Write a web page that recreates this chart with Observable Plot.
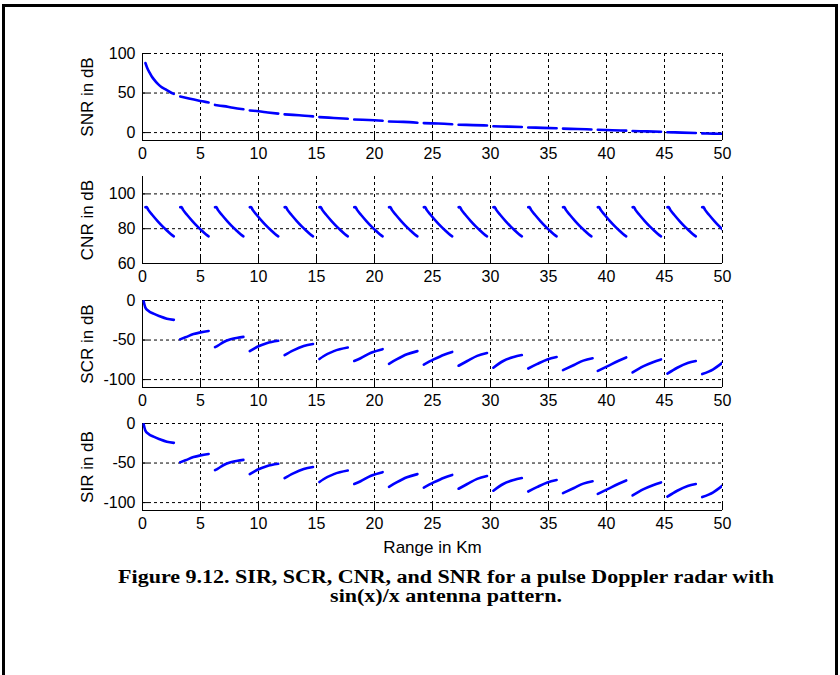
<!DOCTYPE html>
<html><head><meta charset="utf-8">
<script src="https://cdn.jsdelivr.net/npm/d3@7"></script>
<script src="https://cdn.jsdelivr.net/npm/@observablehq/plot@0.6"></script>
<style>
html,body{margin:0;padding:0;background:#fff;}
#page{position:relative;width:840px;height:675px;overflow:hidden;background:#fff;}
#border{position:absolute;left:2px;top:4px;width:830px;height:720px;border:3px solid #000;border-bottom:none;}
.panel{position:absolute;left:0;}
#caption{position:absolute;left:26px;top:568px;width:840px;text-align:center;font:bold 18.5px "Liberation Serif","Times New Roman",serif;line-height:19px;color:#000;}
#caption div{transform:scaleX(1.19);transform-origin:center;}
</style></head><body>
<div id="page"><div id="border"></div>
<div id="caption"><div>Figure 9.12. SIR, SCR, CNR, and SNR for a pulse Doppler radar with</div><div>sin(x)/x antenna pattern.</div></div>
</div>
<script>
// ---- data ----
const rangeTicks = [0, 5, 10, 15, 20, 25, 30, 35, 40, 45, 50];
const snrTicks = [0, 50, 100];
const cnrTicks = [60, 80, 100];
const scrTicks = [-100, -50, 0];
const sirTicks = [-100, -50, 0];

// start of each receive window (km)
const segStart = [0.25, 3.25, 6.25, 9.25, 12.25, 15.25, 18.25, 21.25, 24.25, 27.25, 30.25, 33.25, 36.25, 39.25, 42.25, 45.25, 48.25];

const snrRange = [0.25,0.4,0.6,0.8,1.0,1.3,1.6,2.0,2.4,2.7,
  3.25,4.0,4.8,5.7, 6.25,7.0,7.8,8.7, 9.25,10.0,10.8,11.7,
  12.25,13.5,14.7, 15.25,16.5,17.7, 18.25,19.5,20.7, 21.25,22.5,23.7,
  24.25,25.5,26.7, 27.25,28.5,29.7, 30.25,31.5,32.7, 33.25,34.5,35.7,
  36.25,37.5,38.7, 39.25,40.5,41.7, 42.25,43.5,44.7, 45.25,46.5,47.7, 48.25,49.2,50];
const snrDb = [88,82,76,71,67,62,58,54.5,51,49,
  45.5,43,40.5,38, 35,33.5,31.5,29.5, 28,27,25.5,24,
  23,22,20.5, 19.5,18.5,17.5, 16.5,16,15, 14,13.5,12.5,
  12,11.5,10.5, 10,9.5,9, 8,7.5,7, 6.5,6,5.5,
  5,4.5,4, 3.5,3,2.5, 2,1.5,1, 0.5,0,-0.5, -1,-1.3,-1.5];

// CNR within one receive window (offset from window start, km)
const cnrOffset = [0, 0.1, 0.25, 0.6, 1.05, 1.5, 1.9, 2.3, 2.45];
const cnrDb = [92.3, 92.5, 90.8, 87.9, 84.4, 81.2, 78.7, 76.3, 75.6];

const scrRange = [0.1,0.25,0.5,1.0,1.5,2.1,2.7,
  3.25,3.7,4.4,5.0,5.7, 6.25,6.5,7.0,7.6,8.2,8.7, 9.25,9.9,10.7,11.7,
  12.25,13.0,13.9,14.7, 15.25,15.6,16.5,17.7, 18.25,18.8,19.7,20.7,
  21.25,21.9,22.8,23.7, 24.25,25.1,26.0,26.7, 27.25,28.0,28.85,29.7,
  30.25,31.1,32.0,32.7, 33.25,34.0,34.9,35.7, 36.25,37.2,38.0,38.8,
  39.25,40.1,41.0,41.7, 42.25,43.2,44.0,44.7, 45.25,46.1,47.0,47.7, 48.25,49.2,50];
const scrDb = [-1,-9,-13,-17,-20,-23,-24.5,
  -49,-46.5,-42.5,-40.3,-38.5, -59,-57,-52.5,-49,-47,-46, -64,-58.5,-54,-51,
  -69,-63,-57.5,-55, -74,-70.5,-64,-59.5, -76.5,-73,-66,-61.5,
  -80,-74.5,-68,-64, -81,-74.5,-68.5,-65, -82.5,-76.5,-70,-66.5,
  -85,-76.5,-71.5,-69, -86,-80.5,-74.5,-71.5, -88,-81.5,-76,-73,
  -89,-83,-76.5,-72, -91,-83,-78,-74.5, -92.5,-85,-79,-76.5, -93,-87,-78.5];

const sirRange = [0.1,0.25,0.5,1.0,1.5,2.1,2.7,
  3.25,3.7,4.4,5.0,5.7, 6.25,6.5,7.0,7.6,8.2,8.7, 9.25,9.9,10.7,11.7,
  12.25,13.0,13.9,14.7, 15.25,15.6,16.5,17.7, 18.25,18.8,19.7,20.7,
  21.25,21.9,22.8,23.7, 24.25,25.1,26.0,26.7, 27.25,28.0,28.85,29.7,
  30.25,31.1,32.0,32.7, 33.25,34.0,34.9,35.7, 36.25,37.2,38.0,38.8,
  39.25,40.1,41.0,41.7, 42.25,43.2,44.0,44.7, 45.25,46.1,47.0,47.7, 48.25,49.2,50];
const sirDb = [-1,-9,-13,-17,-20,-23,-24.5,
  -49,-46.5,-42.5,-40.3,-38.5, -59,-57,-52.5,-49,-47,-46, -64,-58.5,-54,-51,
  -69,-63,-57.5,-55, -74,-70.5,-64,-59.5, -76.5,-73,-66,-61.5,
  -80,-74.5,-68,-64, -81,-74.5,-68.5,-65, -82.5,-76.5,-70,-66.5,
  -85,-76.5,-71.5,-69, -86,-80.5,-74.5,-71.5, -88,-81.5,-76,-73,
  -89,-83,-76.5,-72, -91,-83,-78,-74.5, -92.5,-85,-79,-76.5, -93,-87,-78.5];

// ---- build tables ----
const segOf = (x) => Math.max(0, d3.bisectRight(segStart, x + 1e-9) - 1);
const table = (xs, ys) => xs.map((x, i) => ({x, y: ys[i], seg: segOf(x)}));
const snrData = table(snrRange, snrDb);
const cnrData = segStart.flatMap((s, k) => cnrOffset.map((o, i) => ({x: s + o, y: cnrDb[i], seg: k})));
const scrData = table(scrRange, scrDb);
const sirData = table(sirRange, sirDb);

// ---- layout ----
const W = 840, ML = 142, MR = 118, MT = 10, PH = 87;
const PW = W - ML - MR;
const FONT = "'Liberation Sans', Arial, Helvetica, sans-serif";

function panel({top, yDomain, yTicks, label, data, xLabel}) {
  const MB = xLabel ? 55 : 30;
  const gridStyle = {stroke: "#000", strokeOpacity: 1, strokeWidth: 1, strokeDasharray: "3,3"};
  const svg = Plot.plot({
    width: W, height: MT + PH + MB,
    marginTop: MT, marginLeft: ML, marginRight: MR, marginBottom: MB,
    style: {background: "transparent", fontFamily: FONT, fontSize: "16px", color: "#000", overflow: "visible"},
    x: {domain: [0, 50]},
    y: {domain: yDomain},
    marks: [
      Plot.gridX(rangeTicks, gridStyle),
      Plot.gridY(yTicks, gridStyle),
      Plot.ruleX([0], {stroke: "#000", strokeWidth: 1}),
      Plot.ruleY([yDomain[0]], {stroke: "#000", strokeWidth: 1}),
      Plot.tickX(rangeTicks, {x: d => d, stroke: "#000", insetTop: PH - 6}),
      Plot.tickY(yTicks, {y: d => d, stroke: "#000", insetRight: PW - 6}),
      Plot.line(data, {x: "x", y: "y", z: "seg", stroke: "#0000ff", strokeWidth: 2.6, curve: "monotone-x", clip: true}),
      Plot.axisX({ticks: rangeTicks, tickSize: 0, tickPadding: 7, label: null, fontSize: 16, tickFormat: d => String(d)}),
      Plot.axisY({ticks: yTicks, tickSize: 0, tickPadding: 7, label: null, fontSize: 16, tickFormat: d => String(d)}),
      Plot.text([label], {text: d => d, frameAnchor: "left", textAnchor: "middle", lineAnchor: "middle", rotate: -90, dx: -55, fontSize: 17}),
      xLabel ? Plot.text([xLabel], {text: d => d, frameAnchor: "bottom", textAnchor: "middle", lineAnchor: "middle", dy: 37, fontSize: 17}) : null
    ].filter(Boolean)
  });
  svg.classList.add("panel");
  svg.style.top = (top - MT) + "px";
  document.getElementById("page").appendChild(svg);
}

panel({top: 53, yDomain: [-10, 100], yTicks: snrTicks, label: "SNR in dB", data: snrData});
panel({top: 176, yDomain: [60, 110], yTicks: cnrTicks, label: "CNR in dB", data: cnrData});
panel({top: 300, yDomain: [-110, 0], yTicks: scrTicks, label: "SCR in dB", data: scrData});
panel({top: 423, yDomain: [-110, 0], yTicks: sirTicks, label: "SIR in dB", data: sirData, xLabel: "Range in Km"});
</script>
</body></html>
